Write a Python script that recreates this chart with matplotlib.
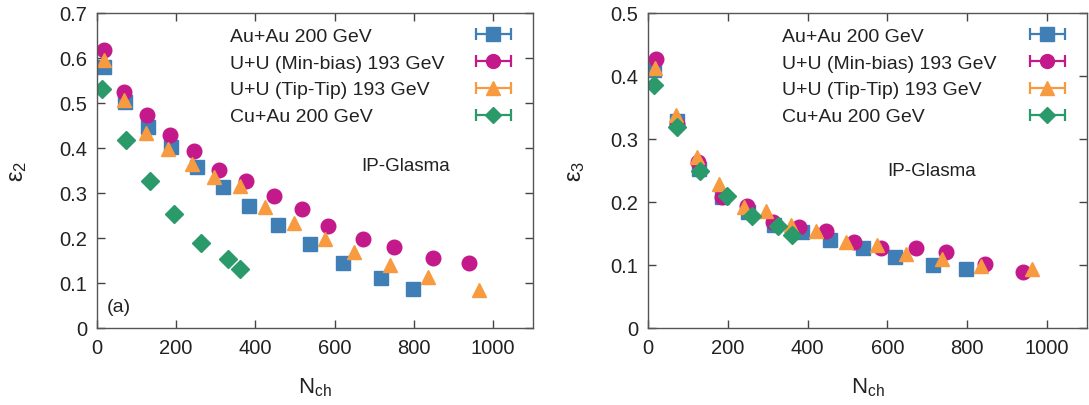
import numpy as np
import matplotlib
matplotlib.use("Agg")
from matplotlib import pyplot as plt
from matplotlib.container import ErrorbarContainer
from matplotlib.legend_handler import HandlerErrorbar
from matplotlib.lines import Line2D

plt.rcParams['font.family'] = ['Liberation Sans', 'DejaVu Sans']
plt.rcParams['mathtext.default'] = 'regular'

labels = ["Au+Au 200 GeV", "U+U (Min-bias) 193 GeV", "U+U (Tip-Tip) 193 GeV", "Cu+Au 200 GeV"]

# eps2 (left)
auau_x2 = [18, 71, 128, 188, 252, 318, 385, 458, 538, 622, 717, 799]
auau_y2 = [0.580, 0.502, 0.446, 0.402, 0.357, 0.312, 0.270, 0.229, 0.187, 0.144, 0.110, 0.087]
uumb_x2 = [18, 69, 127, 185, 245, 309, 376, 447, 517, 584, 673, 750, 848, 940]
uumb_y2 = [0.617, 0.524, 0.472, 0.428, 0.392, 0.350, 0.326, 0.292, 0.265, 0.226, 0.198, 0.180, 0.155, 0.144]
uutt_x2 = [18, 69, 124, 179, 240, 296, 362, 424, 498, 576, 650, 739, 835, 964]
uutt_y2 = [0.596, 0.506, 0.432, 0.398, 0.365, 0.335, 0.315, 0.269, 0.234, 0.198, 0.169, 0.139, 0.113, 0.085]
cuau_x2 = [14, 73, 133, 195, 263, 330, 362]
cuau_y2 = [0.530, 0.417, 0.326, 0.252, 0.189, 0.152, 0.130]

# eps3 (right)
auau_x3 = [16, 72, 127, 186, 250, 315, 387, 457, 538, 619, 715, 797]
auau_y3 = [0.410, 0.328, 0.252, 0.207, 0.184, 0.163, 0.152, 0.139, 0.126, 0.112, 0.100, 0.093]
uumb_x3 = [21, 72, 126, 186, 247, 313, 378, 446, 517, 584, 672, 746, 845, 939]
uumb_y3 = [0.426, 0.324, 0.264, 0.208, 0.194, 0.168, 0.160, 0.153, 0.137, 0.127, 0.126, 0.121, 0.101, 0.088]
uutt_x3 = [18, 70, 124, 177, 241, 295, 359, 422, 497, 575, 648, 738, 836, 963]
uutt_y3 = [0.412, 0.338, 0.271, 0.228, 0.192, 0.186, 0.163, 0.153, 0.137, 0.131, 0.118, 0.110, 0.098, 0.093]
cuau_x3 = [15, 74, 131, 197, 262, 327, 360]
cuau_y3 = [0.385, 0.318, 0.249, 0.210, 0.178, 0.161, 0.147]

colors = ["#3f7fb6", "#c4198a", "#f89a40", "#2b9a6a"]
markers = ["s", "o", "^", "D"]
msizes = [10, 10.5, 10, 9]


def draw(ax, data, ymax, ylab, ipg_xy):
    for (x, y), c, m, ms in zip(data, colors, markers, msizes):
        ax.plot(x, y, linestyle="none", marker=m, ms=ms, color=c, mec=c)
    # legend proxies (errorbar style like gnuplot)
    proxies = []
    for c, m, ms in zip(colors, markers, msizes):
        p = ax.errorbar([np.nan], [np.nan], xerr=[1], fmt=m, ms=ms * 0.95, color=c,
                        ecolor=c, elinewidth=1.6, capsize=4, capthick=1.6)
        proxies.append(p)
    hm = {ErrorbarContainer: HandlerErrorbar(xerr_size=0.9)}
    # symbols on the right (labels kept only for row spacing, hidden)
    leg1 = ax.legend(proxies, labels, loc="upper right", bbox_to_anchor=(0.95, 0.955),
                     frameon=False, markerfirst=False, fontsize=14,
                     handlelength=1.8, handletextpad=0.5, labelspacing=0.48,
                     borderpad=0, borderaxespad=0, handler_map=hm)
    for t in leg1.get_texts():
        t.set_visible(False)
    ax.add_artist(leg1)
    # left aligned labels
    blanks = [Line2D([], [], linestyle="none") for _ in labels]
    ax.legend(blanks, labels, loc="upper left", bbox_to_anchor=(0.305, 0.955),
              frameon=False, fontsize=14, handlelength=0, handletextpad=0,
              labelspacing=0.48, borderpad=0, borderaxespad=0, labelcolor="#222222")
    ax.text(ipg_xy[0], ipg_xy[1], "IP-Glasma", fontsize=13.5, color="#222222",
            ha="left", va="center")
    ax.set_xlim(0, 1100)
    ax.set_ylim(0, ymax)
    ax.set_xticks([0, 200, 400, 600, 800, 1000])
    ax.set_yticks(np.arange(0, ymax + 0.001, 0.1))
    ax.yaxis.set_major_formatter(matplotlib.ticker.FuncFormatter(lambda v, p: "0" if v == 0 else "%.1f" % v))
    ax.tick_params(direction="in", length=6, width=1, top=True, right=True,
                   labelsize=14.5, colors="#444444", labelcolor="#222222", pad=7)
    for s in ax.spines.values():
        s.set_color("#555555")
        s.set_linewidth(1)
    ax.set_xlabel("N$_{ch}$", fontsize=16, color="#222222")
    ax.set_ylabel(ylab, fontsize=17, color="#222222")


fig = plt.figure(figsize=(10.89, 4.06), dpi=100)
ax1 = fig.add_axes([0.089, 0.19, 0.4, 0.776])
ax2 = fig.add_axes([0.595, 0.19, 0.403, 0.776])

draw(ax1, [(auau_x2, auau_y2), (uumb_x2, uumb_y2), (uutt_x2, uutt_y2), (cuau_x2, cuau_y2)],
     0.7, "ε$_2$", (668, 0.361))
draw(ax2, [(auau_x3, auau_y3), (uumb_x3, uumb_y3), (uutt_x3, uutt_y3), (cuau_x3, cuau_y3)],
     0.5, "ε$_3$", (600, 0.25))
ax1.text(0.022, 0.067, "(a)", transform=ax1.transAxes, fontsize=14, color="#222222",
         ha="left", va="center")

ax1.xaxis.set_label_coords(0.5, -0.15)
ax2.xaxis.set_label_coords(0.5, -0.15)
ax1.yaxis.set_label_coords(-0.155, 0.5)
ax2.yaxis.set_label_coords(-0.14, 0.5)

fig.savefig("out.png", dpi=100)
